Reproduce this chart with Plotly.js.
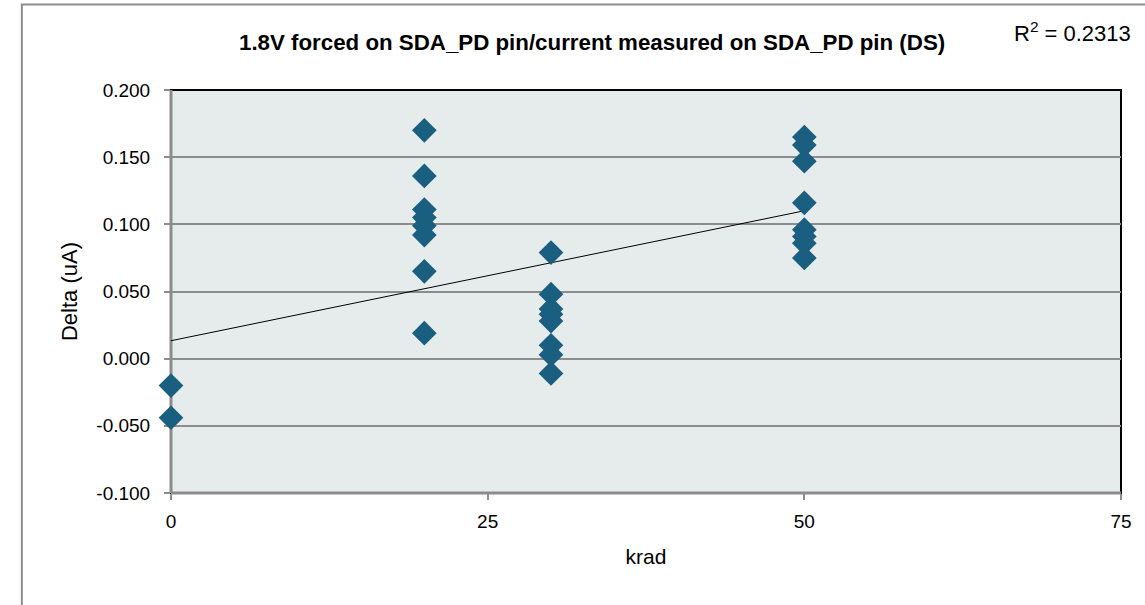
<!DOCTYPE html>
<html>
<head>
<meta charset="utf-8">
<script src="https://cdn.plot.ly/plotly-3.0.1.min.js"></script>
<style>html,body{margin:0;padding:0;background:#fff;overflow:hidden}#chart{width:1145px;height:605px}</style>
</head>
<body>
<div id="chart"></div>
<script>
// Data (krad vs Delta uA)
const kradValues = [0, 0,
  20, 20, 20, 20, 20, 20, 20, 20,
  30, 30, 30, 30, 30, 30, 30, 30,
  50, 50, 50, 50, 50, 50, 50, 50];
const deltaValues = [-0.020, -0.044,
  0.170, 0.136, 0.111, 0.105, 0.099, 0.092, 0.065, 0.019,
  0.079, 0.048, 0.037, 0.033, 0.028, 0.010, 0.003, -0.011,
  0.165, 0.159, 0.147, 0.116, 0.096, 0.091, 0.086, 0.075];
const xTicks = [0, 25, 50, 75];
const yTicks = [-0.1, -0.05, 0, 0.05, 0.1, 0.15, 0.2];
const titleText = '1.8V forced on SDA_PD pin/current measured on SDA_PD pin (DS)';
const r2Text = 'R<sup>2</sup> = 0.2313';

// linear regression trendline
const n = kradValues.length;
const mx = kradValues.reduce((a,b)=>a+b,0)/n;
const my = deltaValues.reduce((a,b)=>a+b,0)/n;
let sxy=0, sxx=0;
for (let i=0;i<n;i++){ sxy += (kradValues[i]-mx)*(deltaValues[i]-my); sxx += (kradValues[i]-mx)**2; }
const slope = sxy/sxx, intercept = my - slope*mx;
const xMin = Math.min(...kradValues), xMax = Math.max(...kradValues);

const traces = [
  {x:[xMin,xMax], y:[intercept+slope*xMin, intercept+slope*xMax], mode:'lines',
   line:{color:'#000000', width:1}, hoverinfo:'skip', showlegend:false, cliponaxis:false},
  {x:kradValues, y:deltaValues, mode:'markers', type:'scatter', cliponaxis:false,
   marker:{symbol:'diamond', size:19, color:'#1a5f80'}, showlegend:false}
];

const grayLine = '#8c8c8c';
const layout = {
  width:1145, height:605,
  paper_bgcolor:'#ffffff', plot_bgcolor:'#e6ecec',
  margin:{l:171, r:24, t:90, b:112},
  font:{family:'Liberation Sans, Arial, sans-serif', color:'#000'},
  showlegend:false,
  xaxis:{range:[0,75], tickvals:xTicks, ticktext:xTicks.map(String), showgrid:false, zeroline:false,
    ticks:'outside', ticklen:6, tickwidth:2, tickcolor:grayLine, tickfont:{size:19},
    ticklabelstandoff:5,
    showline:false, layer:'below traces',
    title:{text:'krad', font:{size:21}, standoff:18}},
  yaxis:{range:[-0.1,0.2], tickvals:yTicks, ticktext:yTicks.map(v=>v.toFixed(3)), showgrid:true,
    gridcolor:grayLine, gridwidth:2, zeroline:false,
    ticks:'outside', ticklen:6, tickwidth:2, tickcolor:grayLine, tickfont:{size:19},
    ticklabelstandoff:10,
    showline:false, layer:'below traces',
    title:{text:'Delta (uA)', font:{size:22}, standoff:12}},
  shapes:[
    {type:'rect', xref:'paper', yref:'paper', x0:-0.157, x1:1.2, y0:-0.4, y1:1.212,
     line:{color:'#8c8c8c', width:2}, fillcolor:'rgba(0,0,0,0)', layer:'below'},
    {type:'rect', xref:'paper', yref:'paper', x0:0, x1:1, y0:0, y1:1,
     line:{color:'#000000', width:2}, fillcolor:'rgba(0,0,0,0)', layer:'between'},
    {type:'line', xref:'paper', yref:'paper', x0:0, x1:0, y0:0, y1:1,
     line:{color:grayLine, width:3}, layer:'between'},
    {type:'line', xref:'paper', yref:'paper', x0:0, x1:1, y0:0, y1:0,
     line:{color:grayLine, width:3}, layer:'between'}
  ],
  annotations:[
    {text:'<b>'+titleText+'</b>', xref:'paper', yref:'paper', x:0.443, y:1.117, xanchor:'center', yanchor:'middle',
     showarrow:false, font:{size:22.3, family:'Liberation Sans, Arial, sans-serif'}},
    {text:r2Text, xref:'paper', yref:'paper', x:1.013, y:1.145, xanchor:'right', yanchor:'middle',
     showarrow:false, font:{size:22}}
  ]
};
Plotly.newPlot('chart', traces, layout, {staticPlot:true, displayModeBar:false});
</script>
</body>
</html>
